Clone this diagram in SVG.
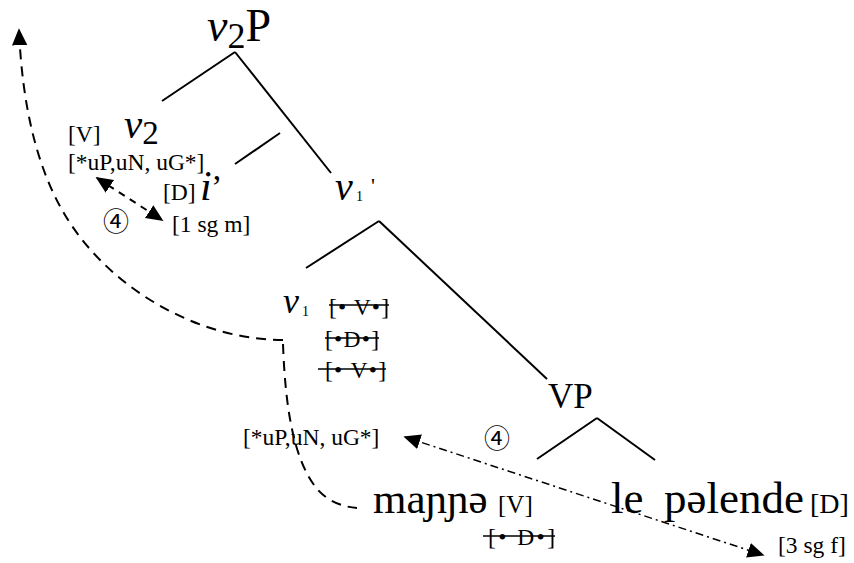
<svg xmlns="http://www.w3.org/2000/svg" width="854" height="563" viewBox="0 0 854 563">
<style>
text{font-family:"Liberation Serif","Times New Roman","Noto Sans CJK JP",serif;fill:#000}
.s{font-size:23.5px}
.big{font-size:45px}
.it{font-style:italic}
.tree{stroke:#000;stroke-width:2;fill:none}
.dash{stroke:#000;stroke-width:2;fill:none;stroke-dasharray:10 7}
.sdash{stroke:#000;stroke-width:2;fill:none;stroke-dasharray:7 6}
.dd{stroke:#000;stroke-width:1.5;fill:none;stroke-dasharray:8 4 2 4}
.strike{stroke:#000;stroke-width:1.5}
.circ{font-family:"Noto Sans CJK JP","DejaVu Sans",sans-serif;font-size:26px;font-weight:400}
</style>
<defs>
<marker id="ah" viewBox="0 0 10 10" refX="9" refY="5" markerWidth="17" markerHeight="17" markerUnits="userSpaceOnUse" orient="auto-start-reverse">
<path d="M0,0.5 L10,5 L0,9.5 Z" fill="#000"/>
</marker>
</defs>

<g id="tree-lines">
<line class="tree" x1="235" y1="52" x2="162" y2="101"/>
<line class="tree" x1="235" y1="52" x2="331" y2="173"/>
<line class="tree" x1="280" y1="133" x2="235" y2="164"/>
<line class="tree" x1="379" y1="221" x2="306" y2="268"/>
<line class="tree" x1="379" y1="221" x2="547" y2="379"/>
<line class="tree" x1="597" y1="418" x2="537" y2="459"/>
<line class="tree" x1="597" y1="418" x2="655" y2="460"/>
</g>

<g id="node-v2P">
<text x="207" y="41" font-size="46"><tspan class="it">v</tspan><tspan font-size="36" dy="7">2</tspan><tspan dy="-7">P</tspan></text>
</g>

<g id="node-v2">
<text class="s" x="68" y="142">[V]</text>
<text x="124" y="138" font-size="41"><tspan class="it">v</tspan><tspan font-size="33" dy="6">2</tspan></text>
<text class="s" x="68" y="170">[*uP,uN, uG*]</text>
</g>

<g id="node-i">
<text class="s" x="163" y="200">[D]</text>
<text x="200" y="200" font-size="42" class="it">i</text>
<text x="211" y="198" font-size="34">’</text>
<text class="circ" x="103" y="231">④</text>
<text class="s" x="172" y="232">[1 sg m]</text>
</g>

<g id="node-v1bar">
<text x="335" y="200" font-size="40" class="it">v</text>
<text x="356" y="201" font-size="14">1</text>
<text x="371" y="193" font-size="22">'</text>
</g>

<g id="node-v1">
<text x="283" y="313" font-size="36" class="it">v</text>
<text x="302" y="316" font-size="14">1</text>
<text class="s" x="329" y="315" textLength="60" lengthAdjust="spacing">[• V•]</text>
<line class="strike" x1="329" y1="305" x2="389" y2="305"/>
<text class="s" x="325" y="347" textLength="54" lengthAdjust="spacing">[•D•]</text>
<line class="strike" x1="325" y1="338" x2="379" y2="338"/>
<text class="s" x="325" y="378" textLength="61" lengthAdjust="spacing">[• V•]</text>
<line class="strike" x1="318" y1="369" x2="386" y2="369"/>
</g>

<g id="node-VP">
<text x="548" y="408" font-size="35">VP</text>
</g>

<g id="node-features">
<text class="s" x="243" y="445">[*uP,uN, uG*]</text>
<text class="circ" x="484" y="448">④</text>
</g>

<g id="node-manne">
<text x="373" y="513" font-size="43">maɲɲə</text>
<text x="498" y="513" font-size="25">[V]</text>
<text class="s" x="488" y="545" textLength="67" lengthAdjust="spacing">[• D•]</text>
<line class="strike" x1="483" y1="536" x2="555" y2="536"/>
</g>

<g id="node-lepelende">
<text class="big" x="611" y="513">le</text>
<text class="big" x="664" y="513">pəlende</text>
<text x="810" y="513" font-size="28">[D]</text>
<text class="s" x="778" y="553">[3 sg f]</text>
</g>

<g id="connectors">
<line class="sdash" x1="97" y1="178" x2="162" y2="220" marker-start="url(#ah)" marker-end="url(#ah)"/>
<line class="dd" x1="405" y1="437" x2="763" y2="555" marker-start="url(#ah)" marker-end="url(#ah)"/>
<path class="dash" d="M283,340 C200,340 110,290 65,215 C35,165 22,100 19,30" marker-end="url(#ah)"/>
<path class="dash" d="M283,344 C285,400 292,460 318,490 C330,503 345,507 357,508"/>
</g>
</svg>
